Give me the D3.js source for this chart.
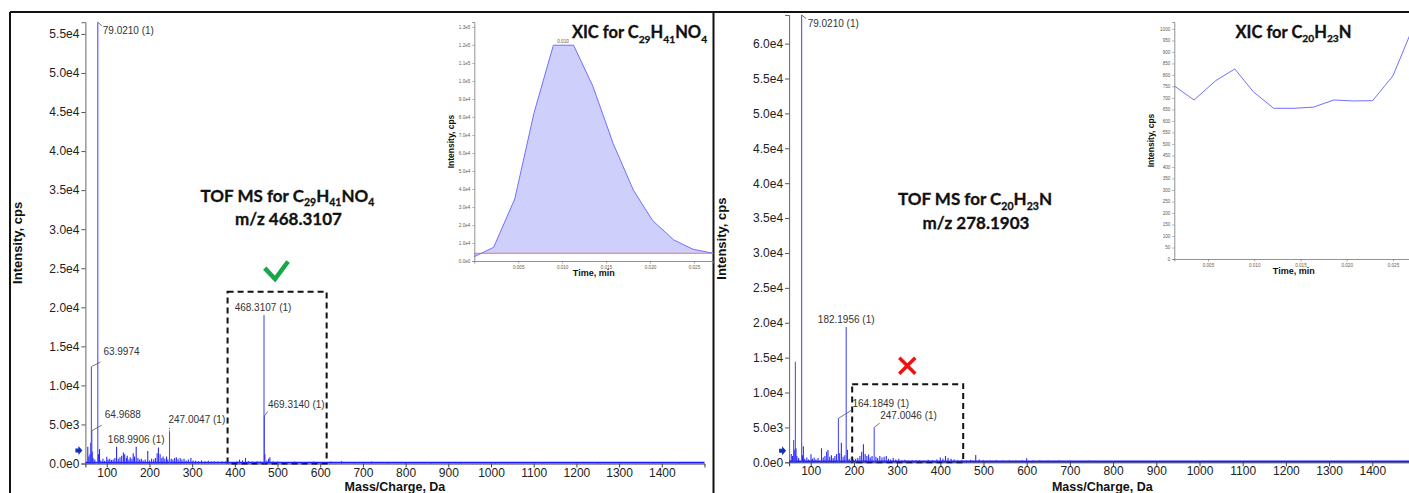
<!DOCTYPE html>
<html>
<head>
<meta charset="utf-8">
<script src="https://cdn.jsdelivr.net/npm/d3@7"></script>
<style>
  body { margin: 0; background: #fff; }
  svg { display: block; font-family: "Liberation Sans", Arial, sans-serif; }
</style>
</head>
<body>
<div id="chart"></div>
<script>
// ---------------- data ----------------
// TOF MS spectra: [m/z, intensity cps]
var leftPeaks = [
  [55.6, 2150], [58, 900], [60.5, 1200], [62.6, 2660], [63.9974, 12400], [64.9688, 4200], [66, 1500],
  [68, 700], [72, 500], [79.021, 56500], [80.5, 1200], [83, 1850], [86, 400], [91, 600], [95, 350],
  [100, 870], [103, 500], [107, 600], [111, 450], [115, 500], [119, 700], [123, 2150], [127, 600],
  [131, 800], [135, 1000], [139, 1400], [142, 1200], [146, 700], [148, 1000], [152, 500], [155, 800],
  [159, 600], [162, 1300], [165, 900], [168.9906, 2150], [173, 700], [177, 500], [181, 600], [185, 400],
  [190, 500], [196, 1600], [200, 400], [205, 600], [210, 500], [214, 700], [218, 1300], [221, 2050],
  [225, 1200], [229, 700], [232, 900], [236, 600], [240, 900], [243, 500], [247.0047, 4070], [251, 600],
  [255, 500], [259, 700], [263, 800], [267, 600], [272, 700], [276, 500], [281, 600], [286, 400],
  [291, 500], [297, 700], [302, 400], [308, 350], [315, 300], [322, 400], [330, 300], [338, 350],
  [345, 250], [352, 300], [360, 250], [370, 300], [378, 250], [390, 200], [405, 300], [411, 500],
  [418, 400], [425, 700], [432, 300], [440, 250], [452, 300], [460, 250], [468.3107, 19000],
  [469.314, 6100], [470.3, 1200], [475, 400], [479, 600], [482, 800], [490, 300], [500, 250],
  [520, 200], [540, 250], [560, 200], [585, 250], [600, 200], [625, 250], [650, 300], [680, 200],
  [720, 250], [760, 200], [800, 150], [860, 180], [930, 150], [1010, 160], [1120, 150], [1250, 160],
  [1380, 150], [1440, 180]
];
var rightPeaks = [
  [55, 1200], [58, 900], [60.5, 3200], [62, 1800], [64.5, 14400], [66, 2000], [68, 900], [72, 600],
  [79.021, 64100], [81, 1000], [83, 2300], [86, 500], [91, 700], [95, 400], [100.7, 1150], [104, 500],
  [108, 700], [112, 400], [117, 600], [125, 2000], [129, 700], [133, 900], [137, 1500], [140, 1760],
  [144, 800], [148, 1000], [152, 600], [156, 900], [160, 1200], [164.1849, 6300], [167, 1300],
  [171, 2800], [175, 800], [179, 1000], [182.1956, 19400], [185, 1800], [189, 500], [194, 700],
  [199, 400], [204, 500], [209, 600], [214, 900], [218, 1500], [222, 2600], [226, 1200], [230, 900],
  [234, 1100], [238, 700], [242, 900], [247.0046, 5000], [251, 800], [255, 600], [260, 900], [265, 700],
  [270, 800], [275, 900], [280, 500], [285, 400], [291, 600], [297, 400], [304, 500], [311, 300],
  [318, 350], [326, 250], [335, 300], [344, 250], [352, 300], [362, 250], [372, 350], [382, 300],
  [392, 400], [400, 700], [406, 500], [412, 900], [418, 600], [425, 500], [432, 400], [440, 300],
  [450, 350], [460, 300], [470, 350], [482, 1050], [490, 400], [500, 300], [515, 250], [530, 300],
  [545, 250], [560, 300], [575, 250], [590, 300], [600, 570], [615, 250], [630, 300], [650, 250],
  [675, 300], [700, 250], [720, 200], [745, 250], [770, 200], [800, 180], [880, 150], [990, 160],
  [1100, 150], [1230, 160], [1350, 150], [1460, 160]
];

// peak labels: text, m/z, intensity, text offset (dx, dy), leader end offset (lx, ly), anchor
var leftLabels = [
  ["79.0210 (1)", 79.021, 56500, 5, 12, 4, 3.5, "start"],
  ["63.9974", 63.9974, 12400, 12, -11.5, 9, -4.5, "start"],
  ["64.9688", 64.9688, 4200, 13, -12.5, 10, -5.5, "start"],
  ["168.9906 (1)", 168.9906, 2150, 0, -4, 0, 0, "middle"],
  ["247.0047 (1)", 247.0047, 4070, -1, -9, 0, -4.5, "start"],
  ["468.3107 (1)", 468.3107, 19000, -1, -4, 0, 0, "middle"],
  ["469.3140 (1)", 469.314, 6100, 3.5, -7.5, 3.5, -4.5, "start"]
];
var rightLabels = [
  ["79.0210 (1)", 79.021, 64100, 6, 11.7, 4.5, 3.5, "start"],
  ["182.1956 (1)", 182.1956, 19400, 0, -4.4, 0, 0, "middle"],
  ["164.1849 (1)", 164.1849, 6300, 14, -11.5, 13.5, -8.3, "start"],
  ["247.0046 (1)", 247.0046, 5000, 6, -8, 5.5, -4.3, "start"]
];

var mzTicks = [100, 200, 300, 400, 500, 600, 700, 800, 900, 1000, 1100, 1200, 1300, 1400];
var leftYTicks = [0, 5000, 10000, 15000, 20000, 25000, 30000, 35000, 40000, 45000, 50000, 55000];
var rightYTicks = [0, 5000, 10000, 15000, 20000, 25000, 30000, 35000, 40000, 45000, 50000, 55000, 60000];

// XIC insets
var xicLeftTime = [0.0000, 0.0022, 0.0046, 0.0068, 0.0090, 0.0113, 0.0135, 0.0158, 0.0181, 0.0203, 0.0227, 0.0249, 0.0272];
var xicLeftInt  = [2400, 7600, 34400, 82300, 119800, 119800, 97000, 65300, 39400, 22400, 11700, 6500, 4300];
var xicLeftBaseline = 4300;
var xicRightTime = [0.00136, 0.0035, 0.0058, 0.0079, 0.0099, 0.0121, 0.0143, 0.0164, 0.0186, 0.0207, 0.0228, 0.0250, 0.0271];
var xicRightInt  = [752, 691, 774, 826, 727, 655, 655, 660, 691, 687, 688, 796, 1000];
var xicTimeTicks = [0.005, 0.010, 0.015, 0.020, 0.025];
var xicLeftYTicks = [0, 10000, 20000, 30000, 40000, 50000, 60000, 70000, 80000, 90000, 100000, 110000, 120000, 130000];
var xicRightYTicks = [0, 50, 100, 150, 200, 250, 300, 350, 400, 450, 500, 550, 600, 650, 700, 750, 800, 850, 900, 950, 1000];

// ---------------- drawing ----------------
var W = 1409, H = 493;
var svg = d3.select("#chart").append("svg").attr("width", W).attr("height", H);

var sci = function(d) { return d3.format(".1e")(d).replace("e+", "e"); };

// frame
svg.append("line").attr("x1", 10).attr("x2", W).attr("y1", 12).attr("y2", 12)
  .attr("stroke", "#111").attr("stroke-width", 2);
svg.append("line").attr("x1", 10).attr("x2", 10).attr("y1", 12).attr("y2", H)
  .attr("stroke", "#111").attr("stroke-width", 2);
svg.append("line").attr("x1", 713.5).attr("x2", 713.5).attr("y1", 12).attr("y2", H)
  .attr("stroke", "#111").attr("stroke-width", 2);

function formulaText(g, parts, x, y, size, anchor) {
  var t = g.append("text").attr("x", x).attr("y", y)
    .attr("text-anchor", anchor || "middle")
    .attr("font-family", "Lato, 'Open Sans', sans-serif")
    .attr("font-weight", 700).attr("font-size", size).attr("fill", "#111")
    .attr("stroke", "#111").attr("stroke-width", 0.3);
  var shifted = false;
  parts.forEach(function(p) {
    var ts = t.append("tspan").text(p[0]);
    if (p[1] && !shifted) { ts.attr("dy", size * 0.28).attr("font-size", size * 0.62); shifted = true; }
    else if (p[1]) { ts.attr("font-size", size * 0.62); }
    else if (shifted) { ts.attr("dy", -size * 0.28); shifted = false; }
  });
  return t;
}

function drawSpectrum(o) {
  var g = svg.append("g");
  var x = d3.scaleLinear().domain([50, 1500]).range(o.xr);
  var y = d3.scaleLinear().domain([0, o.yMax]).range(o.yr);

  // y axis
  var ya = g.append("g").attr("transform", "translate(" + o.xr[0] + ",0)");
  ya.call(d3.axisLeft(y).tickValues(d3.range(0, o.yMax, 1000)).tickSize(2).tickFormat(""));
  ya.call(d3.axisLeft(y).tickValues(o.yTicks).tickSize(4).tickPadding(2).tickFormat(sci));
  ya.selectAll("path.domain").attr("stroke", "#666");
  ya.selectAll("line").attr("stroke", "#555");
  ya.selectAll("text").attr("font-size", 12).attr("fill", "#222")
    .attr("font-family", "'Liberation Sans', Arial, sans-serif");

  // x axis
  var xa = g.append("g").attr("transform", "translate(0," + o.yr[0] + ")");
  xa.call(d3.axisBottom(x).tickValues(d3.range(50, 1500, 50)).tickSize(2).tickFormat(""));
  xa.call(d3.axisBottom(x).tickValues(mzTicks).tickSize(4).tickPadding(0.5).tickFormat(d3.format("d")));
  xa.selectAll("path.domain").attr("stroke", "#333");
  xa.selectAll("line").attr("stroke", "#444");
  xa.selectAll("text").attr("font-size", 12).attr("fill", "#222")
    .attr("font-family", "'Liberation Sans', Arial, sans-serif");

  // axis titles
  g.append("text").attr("x", (o.xr[0] + o.xr[1]) / 2).attr("y", 491)
    .attr("text-anchor", "middle").attr("font-size", 12.5).attr("font-weight", 700)
    .attr("fill", "#111").text("Mass/Charge, Da");
  g.append("text").attr("transform", "translate(" + (o.xr[0] - 63) + "," + ((o.yr[0] + o.yr[1]) / 2) + ") rotate(-90)")
    .attr("text-anchor", "middle").attr("font-size", 13).attr("font-weight", 700)
    .attr("fill", "#111").text("Intensity, cps");

  // dashed box
  g.append("rect")
    .attr("x", x(o.box[0])).attr("width", x(o.box[1]) - x(o.box[0]))
    .attr("y", y(o.box[2])).attr("height", y(0) - y(o.box[2]))
    .attr("fill", "none").attr("stroke", "#111").attr("stroke-width", 2)
    .attr("stroke-dasharray", "6,4");

  // baseline noise and peaks
  g.append("line").attr("x1", x(50)).attr("x2", x(1500)).attr("y1", y(130)).attr("y2", y(130))
    .attr("stroke", "#1a1aff").attr("stroke-width", 1.6);
  g.selectAll("line.pk").data(o.peaks).join("line").attr("class", "pk")
    .attr("x1", function(d) { return x(d[0]); }).attr("x2", function(d) { return x(d[0]); })
    .attr("y1", y(0)).attr("y2", function(d) { return y(d[1]); })
    .attr("stroke", function(d) { return d[1] > 3000 ? "#4d4dff" : "#2b2bff"; })
    .attr("stroke-width", 1.1);

  // threshold arrow
  var ax = o.xr[0] - 3, ay = y(o.arrow);
  g.append("path")
    .attr("d", "M" + (ax - 7) + "," + (ay - 2) + "h3v-2.5l4,4.5l-4,4.5v-2.5h-3z")
    .attr("fill", "#1030c0");

  // labels
  o.labels.forEach(function(l) {
    var px = x(l[1]), py = y(l[2]);
    if (l[5] || l[6]) {
      g.append("line").attr("x1", px).attr("y1", py).attr("x2", px + l[5]).attr("y2", py + l[6])
        .attr("stroke", "#555").attr("stroke-width", 0.8)
        .attr("stroke-dasharray", l[5] === 0 ? "1.5,1" : null);
    }
    g.append("text").attr("x", px + l[3]).attr("y", py + l[4]).attr("text-anchor", l[7])
      .attr("font-size", 10).attr("fill", "#333").text(l[0]);
  });

  // title
  formulaText(g, o.title, o.titlePos[0], o.titlePos[1], 17);
  g.append("text").attr("x", o.titlePos[0] + 1).attr("y", o.titlePos[1] + 23.5)
    .attr("text-anchor", "middle").attr("font-family", "Lato, 'Open Sans', sans-serif")
    .attr("font-weight", 700).attr("font-size", 17).attr("fill", "#111")
    .attr("stroke", "#111").attr("stroke-width", 0.3).text(o.mz);

  return { g: g, x: x, y: y };
}

function drawXic(o) {
  var g = svg.append("g");
  var x = d3.scaleLinear().domain(o.xd).range(o.xr);
  var y = d3.scaleLinear().domain(o.yd).range(o.yr);
  var pts = o.t.map(function(t, i) { return [t, o.v[i]]; });

  if (o.base != null) {
    g.append("path").datum(pts)
      .attr("d", d3.area().x(function(d) { return x(d[0]); }).y0(y(o.base)).y1(function(d) { return y(d[1]); }))
      .attr("fill", "#cfcffb");
    g.append("line").attr("x1", o.xr[0]).attr("x2", o.xr[1]).attr("y1", y(o.base)).attr("y2", y(o.base))
      .attr("stroke", "#f07070").attr("stroke-width", 1);
  }
  g.append("path").datum(pts)
    .attr("d", d3.line().x(function(d) { return x(d[0]); }).y(function(d) { return y(d[1]); }))
    .attr("fill", "none").attr("stroke", "#7070ff").attr("stroke-width", 1);

  var ya = g.append("g").attr("transform", "translate(" + o.xr[0] + ",0)")
    .call(d3.axisLeft(y).tickValues(o.yTicks).tickSize(2).tickPadding(2).tickFormat(o.yFmt));
  var xa = g.append("g").attr("transform", "translate(0," + o.yr[0] + ")");
  xa.call(d3.axisBottom(x).tickValues(d3.range(0.001, 0.0272, 0.001)).tickSize(1.5).tickFormat(""));
  xa.call(d3.axisBottom(x).tickValues(xicTimeTicks).tickSize(2.5).tickPadding(2).tickFormat(d3.format(".3f")));
  g.selectAll("path.domain").attr("stroke", "#777").attr("stroke-width", 0.8);
  g.selectAll(".tick line").attr("stroke", "#777").attr("stroke-width", 0.6);
  g.selectAll(".tick text").attr("font-size", 4.6).attr("fill", "#6a5a4a");

  g.append("text").attr("x", (o.xr[0] + o.xr[1]) / 2).attr("y", o.yr[0] + 14.5)
    .attr("text-anchor", "middle").attr("font-size", 9).attr("font-weight", 700)
    .attr("fill", "#111").text("Time, min");
  g.append("text").attr("transform", "translate(" + (o.xr[0] - 20) + "," + ((o.yr[0] + o.yr[1]) / 2) + ") rotate(-90)")
    .attr("text-anchor", "middle").attr("font-size", 8.5).attr("font-weight", 700)
    .attr("fill", "#111").text("Intensity, cps");

  if (o.peakLabel) {
    g.append("text").attr("x", x(o.peakLabel[0])).attr("y", y(o.peakLabel[1]) - 2)
      .attr("text-anchor", "middle").attr("font-size", 4.6).attr("fill", "#555")
      .text(d3.format(".3f")(o.peakLabel[0]));
  }
  formulaText(g, o.title, o.titlePos[0], o.titlePos[1], 16.5);
  return g;
}

// left panel
var L = drawSpectrum({
  xr: [85.4, 704.5], yr: [463.5, 22.2], yMax: 56500, yTicks: leftYTicks,
  peaks: leftPeaks, labels: leftLabels, box: [383, 615, 22000], arrow: 1650,
  title: [["TOF MS for C", 0], ["29", 1], ["H", 0], ["41", 1], ["NO", 0], ["4", 1]],
  titlePos: [287.5, 201.5], mz: "m/z 468.3107"
});
// green check mark
var cx = L.x(497), cy = L.y(24800);
L.g.append("path")
  .attr("d", "M" + (cx - 11.5) + "," + (cy - 1.7) + "L" + (cx - 1.2) + "," + (cy + 9.3) + "L" + (cx + 11.8) + "," + (cy - 8.3))
  .attr("fill", "none").attr("stroke", "#1aa64b").attr("stroke-width", 4.5);

var R = drawSpectrum({
  xr: [789.1, 1415.5], yr: [462.3, 15], yMax: 64100, yTicks: rightYTicks,
  peaks: rightPeaks, labels: rightLabels, box: [196, 453, 11200], arrow: 1660,
  title: [["TOF MS for C", 0], ["20", 1], ["H", 0], ["23", 1], ["N", 0]],
  titlePos: [975, 205], mz: "m/z 278.1903"
});
// red cross
var rx = R.x(323.6), ry = R.y(13850);
R.g.append("path")
  .attr("d", "M" + (rx - 8) + "," + (ry - 8) + "L" + (rx + 8) + "," + (ry + 8) + "M" + (rx + 8) + "," + (ry - 8) + "L" + (rx - 8) + "," + (ry + 8))
  .attr("stroke", "#ee1111").attr("stroke-width", 3.5);

// insets
drawXic({
  xd: [0, 0.0272], xr: [474.3, 713.3], yd: [0, 132700], yr: [261, 22],
  t: xicLeftTime, v: xicLeftInt, base: xicLeftBaseline, yTicks: xicLeftYTicks, yFmt: sci,
  peakLabel: [0.0101, 119800],
  title: [["XIC for C", 0], ["29", 1], ["H", 0], ["41", 1], ["NO", 0], ["4", 1]], titlePos: [639.5, 38.3]
});
drawXic({
  xd: [0.00136, 0.0272], xr: [1174.3, 1413.3], yd: [0, 1030], yr: [259, 22],
  t: xicRightTime, v: xicRightInt, base: null, yTicks: xicRightYTicks, yFmt: d3.format("d"),
  title: [["XIC for C", 0], ["20", 1], ["H", 0], ["23", 1], ["N", 0]], titlePos: [1293.5, 37.7]
});
</script>
</body>
</html>
